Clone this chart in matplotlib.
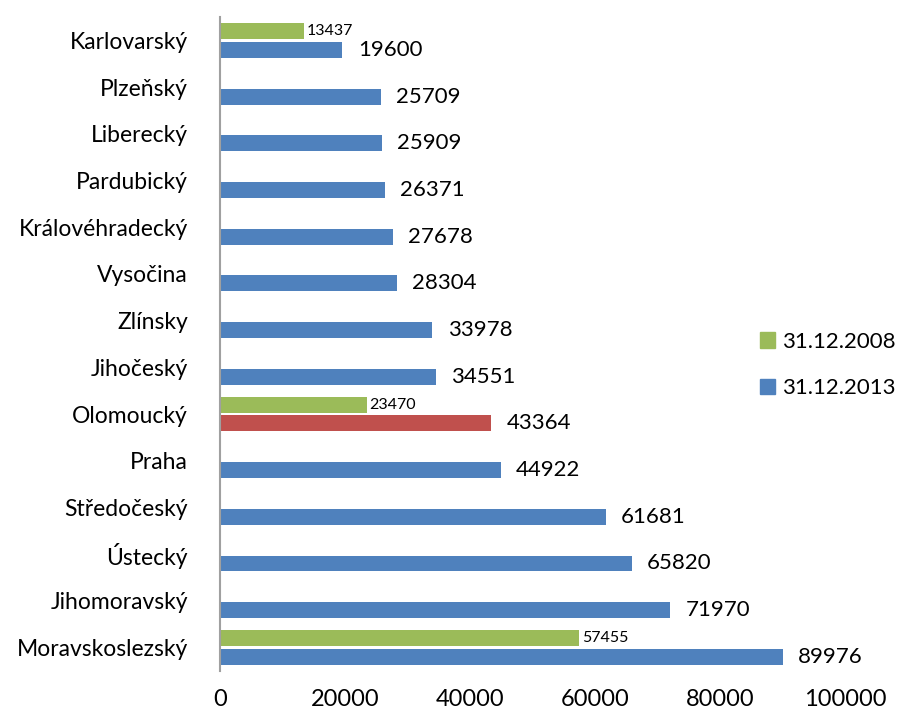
import matplotlib
matplotlib.use('Agg')
import matplotlib.pyplot as plt
from matplotlib.patches import Patch
import numpy as np

plt.rcParams['font.family'] = ['Lato', 'DejaVu Sans']

kraje = ['Karlovarský', 'Plzeňský', 'Liberecký', 'Pardubický', 'Královéhradecký',
         'Vysočina', 'Zlínsky', 'Jihočeský', 'Olomoucký', 'Praha', 'Středočeský',
         'Ústecký', 'Jihomoravský', 'Moravskoslezský']
hodnoty_2013 = [19600, 25709, 25909, 26371, 27678, 28304, 33978, 34551, 43364,
                44922, 61681, 65820, 71970, 89976]
hodnoty_2008 = [13437, None, None, None, None, None, None, None, 23470,
                None, None, None, None, 57455]

modra = '#4F81BD'
zelena = '#9BBB59'
cervena = '#C0504D'

fig = plt.figure(figsize=(9.05, 7.16), dpi=100)
ax = fig.add_axes([0.243, 0.063, 0.691, 0.913])

y = np.arange(len(kraje))
vyska = 0.34
barvy = [cervena if k == 'Olomoucký' else modra for k in kraje]
ax.barh(y + 0.2, hodnoty_2013, height=vyska, color=barvy, edgecolor='none')
for i, v in enumerate(hodnoty_2013):
    ax.annotate(str(v), (v, y[i] + 0.2), xytext=(11, 0), textcoords='offset points',
                va='center', ha='left', fontsize=16)

for i, v in enumerate(hodnoty_2008):
    if v is None:
        continue
    ax.barh(y[i] - 0.2, v, height=vyska, color=zelena, edgecolor='none')
    ax.annotate(str(v), (v, y[i] - 0.2), xytext=(2, 0), textcoords='offset points',
                va='center', ha='left', fontsize=11.5)

ax.set_ylim(len(kraje) - 0.5, -0.5)
ax.set_xlim(0, 100000)
ax.set_yticks(y)
ax.set_yticklabels(kraje, fontsize=16.5)
ax.set_xticks(range(0, 100001, 20000))
ax.tick_params(axis='both', length=0)
ax.tick_params(axis='y', pad=23)
ax.tick_params(axis='x', pad=13, labelsize=17)
for s in ['top', 'right', 'bottom']:
    ax.spines[s].set_visible(False)
ax.spines['left'].set_color('#A0A0A0')
ax.spines['left'].set_linewidth(1.5)

ruce = [Patch(color=zelena, label='31.12.2008'), Patch(color=modra, label='31.12.2013')]
fig.legend(handles=ruce, loc='center left', bbox_to_anchor=(0.818, 0.49),
           frameon=False, fontsize=16, handlelength=0.68, handleheight=0.68,
           handletextpad=0.3, labelspacing=1.2)

fig.savefig('out.png', dpi=100)
